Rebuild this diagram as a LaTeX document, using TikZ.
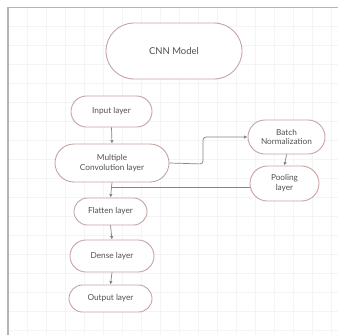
\documentclass[tikz,border=0pt]{standalone}
\usepackage{fontspec}
\setmainfont{Lato}
\usetikzlibrary{shapes.misc,arrows.meta}
\definecolor{edgec}{HTML}{C9A3A3}
\definecolor{linec}{HTML}{858585}
\definecolor{txtc}{HTML}{505050}
\definecolor{gridc}{HTML}{F4F4F4}
\definecolor{framec}{HTML}{B4B4B4}
\tikzset{
  pill/.style={rounded rectangle, draw=edgec, line width=0.9pt, fill=white,
    text=txtc, font=\fontsize{8.3}{9.8}\selectfont, align=center, inner sep=1pt},
  conn/.style={draw=linec, line width=0.7pt},
  arr/.style={conn, -{Latex[length=3.5pt,width=3.5pt]}},
}
\begin{document}
\begin{tikzpicture}[x=1bp,y=-1bp]
\useasboundingbox (0,0) rectangle (338,335);
\fill[white] (0,0) rectangle (338,335);
\foreach \gx in {27,46,...,338} \draw[gridc, line width=0.4pt] (\gx,8) -- (\gx,335);
\foreach \gy in {26,45,...,335} \draw[gridc, line width=0.4pt] (8,\gy) -- (338,\gy);
\draw[framec, line width=1.6pt] (8,335) -- (8,7.5) -- (338,7.5);

\node[pill, minimum width=138bp, minimum height=56bp, font=\fontsize{9.5}{11}\selectfont] (cnn) at (174,51) {CNN Model};
\node[pill, minimum width=83bp, minimum height=31bp] (inp) at (111.5,111.5) {Input layer};
\node[pill, minimum width=116bp, minimum height=38bp] (conv) at (112,163) {Multiple\\Convolution layer};
\node[pill, minimum width=79bp, minimum height=34bp] (bn) at (286.5,137) {Batch\\Normalization};
\node[pill, minimum width=71bp, minimum height=35bp] (pool) at (284.5,183.5) {Pooling\\layer};
\node[pill, minimum width=75bp, minimum height=27bp] (flat) at (110.5,211.5) {Flatten layer};
\node[pill, minimum width=86bp, minimum height=32bp] (dense) at (112,256) {Dense layer};
\node[pill, minimum width=85bp, minimum height=27bp] (out) at (110.5,298.5) {Output layer};
\coordinate (bend) at (203,164);
\coordinate (join) at (111,187);

\draw[arr] (inp.south) -- (conv.north);
\draw[arr, rounded corners=3bp] (conv.east) -- (bend) |- (bn.west);
\draw[arr] (bn.south) -- (pool.north);
\draw[conn] (pool.west |- join) -- (join);
\draw[arr] (conv.south) -- (flat.north);
\draw[arr] (flat.south) -- (dense.north);
\draw[arr] (dense.south) -- (out.north);
\end{tikzpicture}
\end{document}
